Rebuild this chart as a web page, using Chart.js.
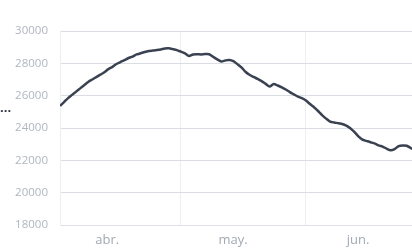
<!DOCTYPE html>
<html>
<head>
<meta charset="utf-8">
<script src="https://cdn.jsdelivr.net/npm/chart.js@4.4.1/dist/chart.umd.min.js"></script>
<style>
  html, body { margin: 0; padding: 0; background: #ffffff; }
  #wrap { width: 412px; height: 249px; }
</style>
</head>
<body>
<div id="wrap"><canvas id="myChart" width="412" height="249"></canvas></div>
<script>
//********************************************************************************//
//                            Data
//********************************************************************************//
// one value per day, starting on 1 April
const dailyValues = [
    25370, 25600, 25850, 26050, 26250, 26450, 26650, 26850, 27000, 27150,
    27300, 27450, 27640, 27780, 27960, 28080, 28200, 28330, 28420, 28550,
    28620, 28700, 28760, 28790, 28820, 28860, 28920, 28930, 28880, 28820,
    28720, 28620, 28450, 28550, 28560, 28550, 28570, 28560, 28400, 28250,
    28120, 28180, 28210, 28130, 27950, 27750, 27480, 27290, 27160, 27040,
    26900, 26730, 26560, 26720, 26630, 26520, 26380, 26220, 26080, 25940,
    25850, 25700, 25480, 25280, 25050, 24800, 24580, 24400, 24340, 24300,
    24250, 24150, 23990, 23760, 23480, 23280, 23200, 23120, 23050, 22920,
    22850, 22720, 22620, 22700, 22880, 22920, 22900, 22760, 22650
];
const monthLabels = ['abr.', 'may.', 'jun.'];
const monthLabelDays = [11.7, 42.9, 73.9];
const monthStartDays = [30, 61];
const yTicks = [18000, 20000, 22000, 24000, 26000, 28000, 30000];

//********************************************************************************//
//                            Chart
//********************************************************************************//
var points = dailyValues.map(function (v, i) { return { x: i, y: v }; });

// the little "..." that is left of the axis
var dotsPlugin = {
    id: 'dots',
    afterDraw: function (chart) {
        var ctx = chart.ctx;
        ctx.save();
        ctx.fillStyle = '#2f3542';
        ctx.font = 'bold 13px "Open Sans"';
        ctx.textBaseline = 'middle';
        ctx.fillText('...', 0, 108);
        ctx.restore();
    }
};

const config = {
    type: 'line',
    data: {
        datasets: [{
            data: points,
            borderColor: '#3a4252',
            borderWidth: 2.5,
            pointRadius: 0,
            fill: false,
            tension: 0.25
        }]
    },
    options: {
        responsive: false,
        devicePixelRatio: 1,
        animation: false,
        layout: { padding: { top: 31, right: 0, left: 0, bottom: 0 } },
        plugins: { legend: { display: false }, tooltip: { enabled: false } },
        scales: {
            x: {
                type: 'linear',
                min: 0,
                max: 87.3,
                position: 'bottom',
                afterBuildTicks: function (s) {
                    s.ticks = monthStartDays.map(function (d) { return { value: d }; });
                },
                ticks: { display: false },
                grid: { color: '#eceef2', drawTicks: false },
                border: { display: true, color: '#dde0e6' },
                afterFit: function (s) { s.height = 0; }
            },
            x2: {
                type: 'linear',
                min: 0,
                max: 87.3,
                position: 'bottom',
                afterBuildTicks: function (s) {
                    s.ticks = monthLabelDays.map(function (d) { return { value: d }; });
                },
                ticks: {
                    autoSkip: false,
                    maxRotation: 0,
                    padding: 7,
                    color: '#a3a9b3',
                    font: { family: '"Open Sans"', size: 13 },
                    callback: function (v, i) { return monthLabels[i]; }
                },
                grid: { display: false, drawTicks: false },
                border: { display: false },
                afterFit: function (s) { s.height = 24; }
            },
            y: {
                min: 18000,
                max: 30000,
                afterBuildTicks: function (s) {
                    s.ticks = yTicks.map(function (v) { return { value: v }; });
                },
                ticks: {
                    padding: 12,
                    color: '#b0b5bf',
                    font: { family: '"Open Sans"', size: 11.5 },
                    callback: function (v) { return String(v); }
                },
                grid: { color: '#dadde3', drawTicks: false },
                border: { display: true, color: '#eceef2' },
                afterFit: function (s) { s.width = 60; }
            }
        }
    },
    plugins: [dotsPlugin]
};

window.addEventListener('load', function () {
    new Chart(document.getElementById('myChart'), config);
});
</script>
</body>
</html>
